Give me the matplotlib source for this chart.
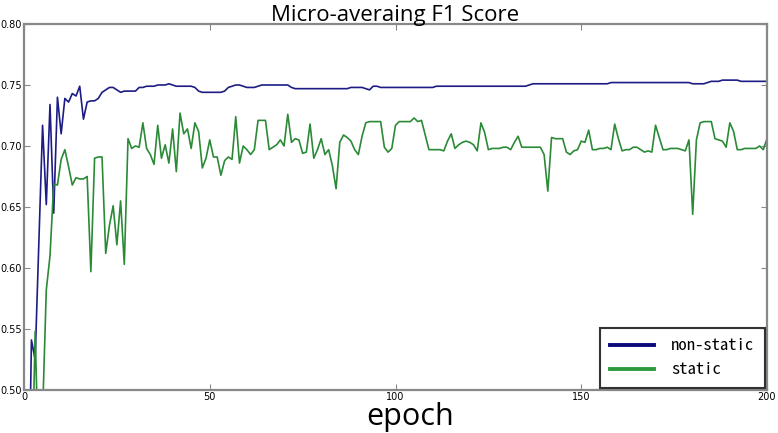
import matplotlib
matplotlib.use("Agg")
import matplotlib.pyplot as plt
import numpy as np

epochs = list(range(1, 201))

non_static = [
    0.35, 0.541, 0.525, 0.621, 0.717, 0.652, 0.734, 0.645, 0.740, 0.710,
    0.739, 0.736, 0.743, 0.741, 0.749, 0.722, 0.736, 0.737, 0.737, 0.739,
    0.744, 0.746, 0.748, 0.748, 0.746, 0.744, 0.745, 0.745, 0.745, 0.745,
    0.748, 0.748, 0.749, 0.749, 0.749, 0.750, 0.750, 0.750, 0.751, 0.750,
    0.749, 0.749, 0.749, 0.749, 0.749, 0.748, 0.745, 0.744, 0.744, 0.744,
    0.744, 0.744, 0.744, 0.745, 0.748, 0.749, 0.750, 0.750, 0.749, 0.748,
    0.748, 0.748, 0.749, 0.750, 0.750, 0.750, 0.750, 0.750, 0.750, 0.750,
    0.750, 0.748, 0.747, 0.747, 0.747, 0.747, 0.747, 0.747, 0.747, 0.747,
    0.747, 0.747, 0.747, 0.747, 0.747, 0.747, 0.747, 0.748, 0.748, 0.748,
    0.748, 0.747, 0.746, 0.749, 0.749, 0.748, 0.748, 0.748, 0.748, 0.748,
    0.748, 0.748, 0.748, 0.748, 0.748, 0.748, 0.748, 0.748, 0.748, 0.748,
    0.749, 0.749, 0.749, 0.749, 0.749, 0.749, 0.749, 0.749, 0.749, 0.749,
    0.749, 0.749, 0.749, 0.749, 0.749, 0.749, 0.749, 0.749, 0.749, 0.749,
    0.749, 0.749, 0.749, 0.749, 0.749, 0.750, 0.751, 0.751, 0.751, 0.751,
    0.751, 0.751, 0.751, 0.751, 0.751, 0.751, 0.751, 0.751, 0.751, 0.751,
    0.751, 0.751, 0.751, 0.751, 0.751, 0.751, 0.751, 0.752, 0.752, 0.752,
    0.752, 0.752, 0.752, 0.752, 0.752, 0.752, 0.752, 0.752, 0.752, 0.752,
    0.752, 0.752, 0.752, 0.752, 0.752, 0.752, 0.752, 0.752, 0.752, 0.751,
    0.751, 0.751, 0.751, 0.752, 0.753, 0.753, 0.753, 0.754, 0.754, 0.754,
    0.754, 0.754, 0.753, 0.753, 0.753, 0.753, 0.753, 0.753, 0.753, 0.753,
]

static = [
    0.40, 0.40, 0.548, 0.43, 0.48, 0.582, 0.61, 0.669, 0.668, 0.689,
    0.697, 0.683, 0.668, 0.674, 0.673, 0.673, 0.675, 0.597, 0.690, 0.691,
    0.691, 0.612, 0.635, 0.651, 0.619, 0.655, 0.603, 0.706, 0.698, 0.700,
    0.699, 0.719, 0.698, 0.693, 0.685, 0.717, 0.690, 0.701, 0.686, 0.714,
    0.679, 0.727, 0.710, 0.714, 0.698, 0.719, 0.712, 0.682, 0.690, 0.705,
    0.691, 0.691, 0.676, 0.688, 0.691, 0.689, 0.724, 0.686, 0.700, 0.697,
    0.693, 0.697, 0.721, 0.721, 0.721, 0.697, 0.699, 0.701, 0.705, 0.700,
    0.726, 0.703, 0.706, 0.705, 0.694, 0.695, 0.718, 0.690, 0.697, 0.706,
    0.693, 0.697, 0.684, 0.665, 0.703, 0.709, 0.707, 0.704, 0.697, 0.693,
    0.708, 0.719, 0.720, 0.720, 0.720, 0.720, 0.699, 0.695, 0.698, 0.717,
    0.720, 0.720, 0.720, 0.720, 0.723, 0.720, 0.721, 0.709, 0.697, 0.697,
    0.697, 0.697, 0.696, 0.704, 0.710, 0.698, 0.701, 0.703, 0.704, 0.703,
    0.701, 0.696, 0.719, 0.711, 0.697, 0.698, 0.698, 0.698, 0.699, 0.699,
    0.697, 0.703, 0.708, 0.699, 0.699, 0.699, 0.699, 0.699, 0.699, 0.693,
    0.663, 0.707, 0.706, 0.706, 0.706, 0.695, 0.693, 0.696, 0.697, 0.704,
    0.703, 0.713, 0.697, 0.697, 0.698, 0.698, 0.699, 0.697, 0.718, 0.706,
    0.696, 0.697, 0.697, 0.699, 0.699, 0.697, 0.695, 0.696, 0.695, 0.717,
    0.707, 0.697, 0.697, 0.698, 0.698, 0.698, 0.697, 0.696, 0.705, 0.644,
    0.705, 0.719, 0.720, 0.720, 0.720, 0.706, 0.705, 0.704, 0.699, 0.719,
    0.712, 0.697, 0.697, 0.698, 0.698, 0.698, 0.698, 0.700, 0.697, 0.706,
]

series_labels = ["non-static", "static"]
title_text = "Micro-averaing F1 Score"
xlabel_text = "epoch"
xticks = [0, 50, 100, 150, 200]
yticks = [0.50, 0.55, 0.60, 0.65, 0.70, 0.75, 0.80]

blue = "#1c1c84"
green = "#2a8a36"

fig = plt.figure(figsize=(7.78, 4.33), dpi=100)
ax = fig.add_axes([24 / 778, 1 - 390 / 433, (767 - 24) / 778, (390 - 24) / 433])

ax.plot(epochs, non_static, color=blue, lw=1.2, label=series_labels[0])
ax.plot(epochs, static, color=green, lw=1.2, label=series_labels[1])

ax.set_xlim(0, 200)
ax.set_ylim(0.50, 0.80)
ax.set_xticks(xticks)
ax.set_yticks(yticks)
ax.set_xticklabels([str(t) for t in xticks])
ax.set_yticklabels(["%.2f" % t for t in yticks])
ax.tick_params(direction="in", length=4, width=0.8, color="#888888",
               labelsize=7, pad=1.5, top=True, right=True)

for s in ax.spines.values():
    s.set_color("#888888")
    s.set_linewidth(1.6)

ax.set_title(title_text, fontsize=16, family=["Open Sans", "DejaVu Sans"], pad=2)
ax.set_xlabel(xlabel_text, fontsize=22, family=["Open Sans", "DejaVu Sans"])
ax.xaxis.set_label_coords(0.52, -0.0956, transform=ax.transAxes)
ax.xaxis.label.set_va("baseline")

leg = ax.legend(loc="lower right", prop={"family": ["Noto Sans Mono CJK SC", "DejaVu Sans Mono"], "size": 12},
                frameon=True, fancybox=False, borderaxespad=0.15, handlelength=2.6,
                handletextpad=1.05, borderpad=0.6, labelspacing=0.55)
leg.get_frame().set_edgecolor("black")
leg.get_frame().set_linewidth(1.5)
for ln, c in zip(leg.get_lines(), ["#0a0a7a", "#2e9a3e"]):
    ln.set_linewidth(2.8)
    ln.set_color(c)

fig.savefig("out.png", dpi=100)
